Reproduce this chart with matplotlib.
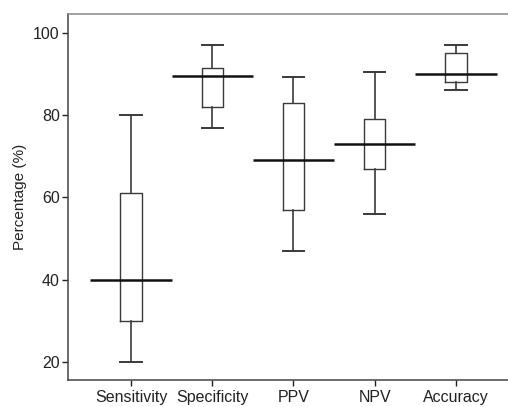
import matplotlib
matplotlib.use("Agg")
import matplotlib.pyplot as plt

plt.rcParams['font.family'] = ['Liberation Sans', 'DejaVu Sans']

# values
labels = ["Sensitivity", "Specificity", "PPV", "NPV", "Accuracy"]
whis_lo = [20, 77, 47, 56, 86]
q1 = [30, 82, 57, 67, 88]
med = [40, 89.5, 69, 73, 90]
q3 = [61, 91.5, 83, 79, 95]
whis_hi = [80, 97, 89.3, 90.6, 97]

stats = []
for i in range(len(labels)):
    stats.append(dict(label=labels[i], whislo=whis_lo[i], q1=q1[i], med=med[i],
                      q3=q3[i], whishi=whis_hi[i], fliers=[]))

fig = plt.figure(figsize=(5.08, 4.07), dpi=100)
ax = fig.add_axes([68/508, 27/407, 1 - 68/508, 366/407])

pos = list(range(1, len(labels) + 1))
lc = "#3a3a3a"
ax.bxp(stats, positions=pos, widths=0.26, showfliers=False,
       boxprops=dict(color=lc, linewidth=1.0),
       whiskerprops=dict(color=lc, linewidth=1.2),
       capprops=dict(color=lc, linewidth=1.4),
       medianprops=dict(linewidth=0),
       capwidths=0.26)
# long median bars
ax.hlines(med, [p - 0.5 for p in pos], [p + 0.5 for p in pos], color="#111111", linewidth=1.8, zorder=3)

ax.set_xlim(0.225, 5.64)
ax.set_ylim(15.6, 104.6)
ax.set_yticks([20, 40, 60, 80, 100])
ax.set_xticks(pos)
ax.set_xticklabels(labels)
ax.set_ylabel("Percentage (%)", fontsize=11, color="#222222", labelpad=4)

ax.spines['right'].set_visible(False)
ax.spines['top'].set_color("#888888")
ax.spines['left'].set_color("#444444")
ax.spines['bottom'].set_color("#444444")
for s in ax.spines.values():
    s.set_linewidth(1.1)
ax.tick_params(axis='both', labelsize=11.5, colors="#222222", length=4, width=1.0, direction='out')
ax.tick_params(axis='x', pad=3)
ax.tick_params(axis='y', pad=2)

fig.savefig("out.png", dpi=100)
